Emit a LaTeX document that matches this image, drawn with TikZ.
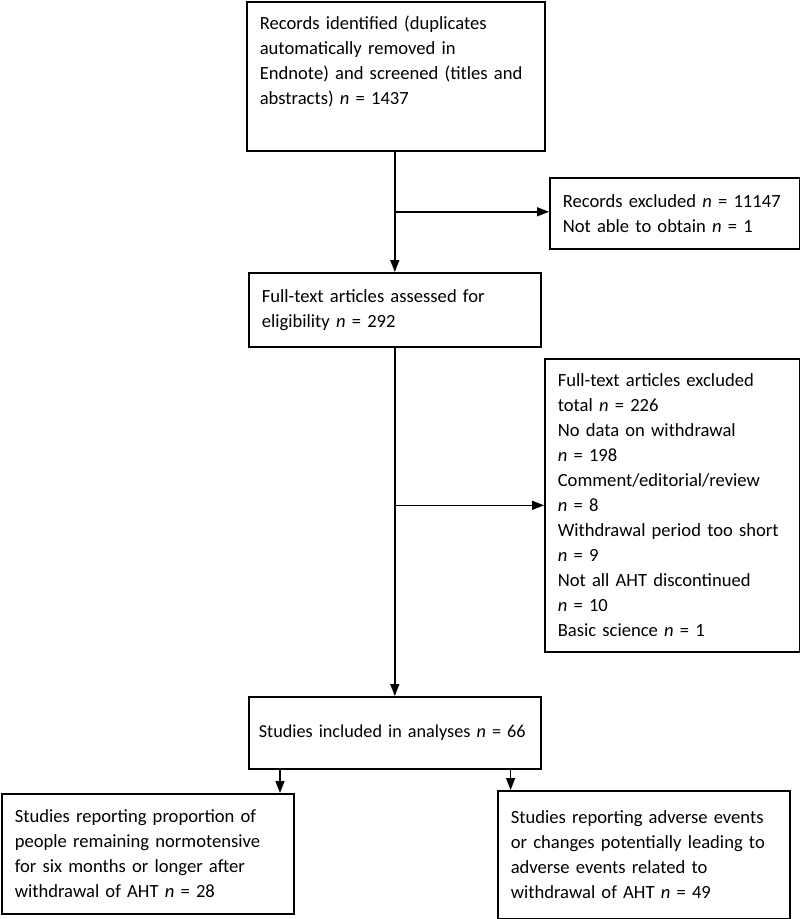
\documentclass[tikz,border=0pt]{standalone}
\usepackage{fontspec}
\setmainfont{Carlito}
\usetikzlibrary{arrows.meta,calc}

\tikzset{
  caja/.style={draw, line width=1.6pt, anchor=north west, align=left,
    inner xsep=13pt, inner ysep=0pt, font=\fontsize{18.6}{25}\selectfont},
  flecha/.style={line width=1.4pt, -{Triangle[length=12pt,width=9pt]}}
}

\begin{document}
\begin{tikzpicture}[x=1pt,y=1pt]
        \useasboundingbox (0,0) rectangle (800,-919);

        % Cajas principales
        \node[caja, text width=272pt, minimum height=149pt] (records) at (246,-1)
          {Records identified (duplicates\\ automatically removed in\\ Endnote) and screened (titles and\\ abstracts) \textit{n} = 1437\\ \strut};
        \node[caja, text width=266pt, minimum height=74pt] (fulltext) at (248,-272)
          {Full-text articles assessed for\\ eligibility \textit{n} = 292};
        \node[caja, inner xsep=10pt, text width=272pt, minimum height=72pt,
          font=\fontsize{18.2}{25}\selectfont] (included) at (248,-696)
          {\mbox{Studies included in analyses \textit{n} = 66}};

        % Cajas de exclusion
        \node[caja, text width=224pt, minimum height=71pt] (excl1) at (549,-177)
          {Records excluded \textit{n} = 11147\\ Not able to obtain \textit{n} = 1};
        \node[caja, text width=229pt, minimum height=293pt] (excl2) at (544,-358)
          {Full-text articles excluded\\ total \textit{n} = 226\\ No data on withdrawal\\ \textit{n} = 198\\ Comment/editorial/review\\ \textit{n} = 8\\ Withdrawal period too short\\ \textit{n} = 9\\ Not all AHT discontinued\\ \textit{n} = 10\\ Basic science \textit{n} = 1};

        % Cajas finales
        \node[caja, text width=266pt, minimum height=120pt] (normo) at (1,-793)
          {Studies reporting proportion of\\ people remaining normotensive\\ for six months or longer after\\ withdrawal of AHT \textit{n} = 28};
        \node[caja, text width=266pt, minimum height=128pt] (adverse) at (497,-790)
          {Studies reporting adverse events\\ or changes potentially leading to\\ adverse events related to\\ withdrawal of AHT \textit{n} = 49};

        % Flechas
        \coordinate (j1) at ($(fulltext.north)!0.5!(fulltext.north |- records.south)$);
        \draw[flecha] (fulltext.north |- records.south) -- (fulltext.north);
        \draw[flecha] (j1) -- (j1 -| excl1.west);

        \coordinate (j2) at (fulltext.south |- excl2.west);
        \draw[flecha] (fulltext.south) -- (fulltext.south |- included.north);
        \draw[flecha] (j2) -- (excl2.west);

        \coordinate (a1) at ([xshift=32pt]included.south west);
        \coordinate (a2) at ([xshift=-31pt]included.south east);
        \draw[flecha] (a1) -- (a1 |- normo.north);
        \draw[flecha] (a2) -- (a2 |- adverse.north);
    \end{tikzpicture}
\end{document}
